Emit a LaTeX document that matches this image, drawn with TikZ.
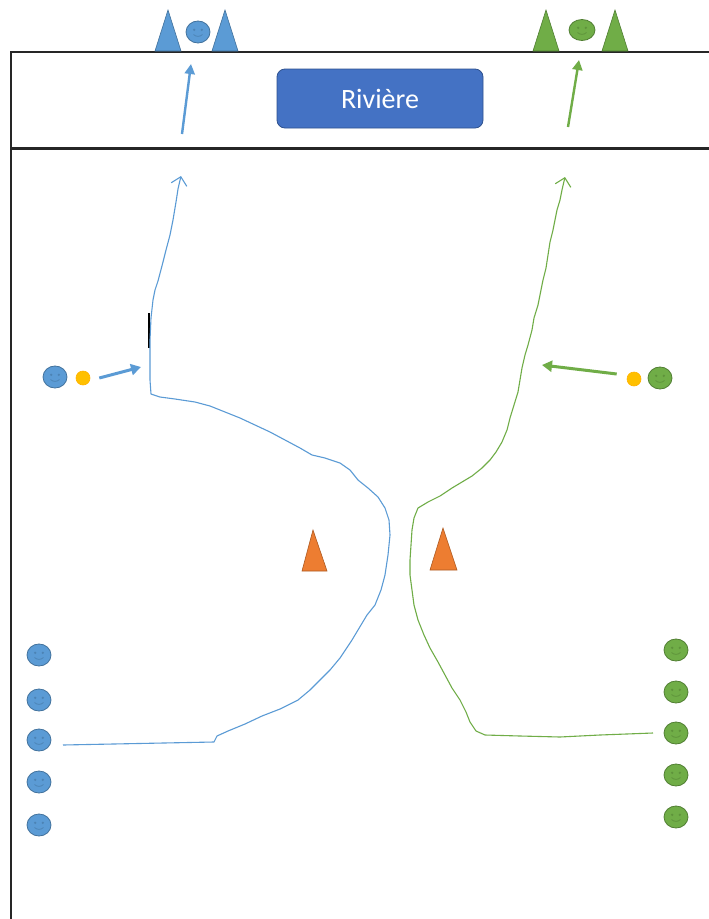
\documentclass[tikz,border=0pt]{standalone}
\usepackage{fontspec}
\newfontfamily\labelfont{Carlito}
\usetikzlibrary{shapes.geometric,arrows.meta,calc}

\definecolor{blueF}{HTML}{5B9BD5}
\definecolor{blueD}{HTML}{41719C}
\definecolor{greenF}{HTML}{70AD47}
\definecolor{greenD}{HTML}{507E32}
\definecolor{orangeF}{HTML}{ED7D31}
\definecolor{orangeD}{HTML}{AE5A21}
\definecolor{ballF}{HTML}{FFC000}
\definecolor{boxF}{HTML}{4472C4}
\definecolor{boxD}{HTML}{2F528F}

\tikzset{
  frame/.style={draw=black!85, line width=#1},
  bface/.style={ellipse, draw=blueD, fill=blueF, line width=0.8, minimum width=24, minimum height=22, inner sep=0},
  gface/.style={ellipse, draw=greenD, fill=greenF, line width=0.8, minimum width=24, minimum height=22, inner sep=0},
  ball/.style={circle, fill=ballF, draw=ballF!80!orange, line width=0.6, minimum size=14, inner sep=0},
  bcone/.style={fill=blueF, draw=blueD, line width=0.6},
  gcone/.style={fill=greenF, draw=greenD, line width=0.6},
  ocone/.style={fill=orangeF, draw=orangeD, line width=0.6},
  runline/.style={line width=1.1, line join=round, -{Straight Barb[length=8,width=16,line width=1.1]}},
  passarrow/.style={line width=3, -{Triangle[length=10,width=11]}},
  exitarrow/.style={line width=2.4, -{Triangle[length=10,width=10]}},
  riverbox/.style={rectangle, rounded corners=8, fill=boxF, draw=boxD, line width=0.8,
    minimum width=206, minimum height=59, text=white, font=\labelfont\fontsize{28}{30}\selectfont},
}

% faint smiley features inside a face node
\newcommand{\smiley}[2]{%
  \fill[#2, opacity=0.55] ($(#1)+(-3.8,-2.2)$) circle (1.3);
  \fill[#2, opacity=0.55] ($(#1)+(3.8,-2.2)$) circle (1.3);
  \draw[#2, opacity=0.55, line width=0.8] ($(#1)+(-4.5,2.5)$) .. controls ($(#1)+(-2,5)$) and ($(#1)+(2,5)$) .. ($(#1)+(4.5,2.5)$);
}

\begin{document}
\begin{tikzpicture}[x=1pt, y=-1pt]
\useasboundingbox (0,0) rectangle (709,919);
\fill[white] (0,0) rectangle (709,919);

% field outline and river band
\draw[frame=2] (709,52) -- (11,52) -- (11,919);
\draw[frame=3] (11,148) -- (709,148);

\node[riverbox] (river) at (380,98.5) {Rivière};

% goals beyond the river
\draw[bcone] (155,51) -- (168,10) -- (181,51) -- cycle;
\draw[bcone] (212,51) -- (225,10) -- (238,51) -- cycle;
\node[bface, minimum width=24, minimum height=22] (bgoal) at (198,32) {};
\smiley{bgoal}{blueD}

\draw[gcone] (533,51) -- (546,10) -- (559,51) -- cycle;
\draw[gcone] (602,51) -- (615,10) -- (628,51) -- cycle;
\node[gface, minimum width=26, minimum height=21] (ggoal) at (582,30) {};
\smiley{ggoal}{greenD}

% crossing arrows
\coordinate (bexitA) at (182,134);
\coordinate (bexitB) at (191,64);
\coordinate (gexitA) at (568,127);
\coordinate (gexitB) at (579,60);
\draw[exitarrow, blueF] (bexitA) -- (bexitB);
\draw[exitarrow, greenF] (gexitA) -- (gexitB);

% central cones
\draw[ocone] (302,571) -- (313,530) -- (327,571) -- cycle;
\draw[ocone] (430,570) -- (443,528) -- (457,570) -- cycle;

% blue team column
\foreach \i/\y in {1/655, 2/700, 3/740, 4/782, 5/825} {
  \node[bface] (b\i) at (39,\y) {};
  \smiley{b\i}{blueD}
}
% green team column
\foreach \i/\y in {1/650, 2/692, 3/733, 4/775, 5/817} {
  \node[gface] (g\i) at (676,\y) {};
  \smiley{g\i}{greenD}
}

% passers with balls
\node[bface] (bpass) at (55,377) {};
\smiley{bpass}{blueD}
\node[ball] (bball) at (83,378) {};
\coordinate (bpassEnd) at (141,367);
\draw[passarrow, blueF] (bball.east) ++(9,0) -- (bpassEnd);

\node[gface] (gpass) at (660,378) {};
\smiley{gpass}{greenD}
\node[ball] (gball) at (634,379) {};
\coordinate (gpassEnd) at (542,365);
\draw[passarrow, greenF] (gball.west) ++(-10,-5) -- (gpassEnd);

% pass receiving marker
\coordinate (markTop) at (149,313);
\coordinate (markBot) at (149,348);
\draw[black, line width=2] (markTop) -- (markBot);

% blue runner's path
\coordinate (bstart) at (63,745);
\coordinate (btip) at (181,176);
\draw[runline, blueF] (bstart) -- (214,742) -- (217,736) -- (228,731) -- (245,724) -- (262,716)
  -- (280,709) -- (298,700) -- (310,690) -- (318,682) -- (330,670) -- (340,658) -- (352,640)
  -- (358,630) -- (367,615) -- (375,605) -- (381,590) -- (385,575) -- (388,555) -- (390,535)
  -- (389,520) -- (385,508) -- (378,497) -- (368,488) -- (358,480) -- (350,470) -- (340,463)
  -- (325,458) -- (312,455) -- (300,448) -- (285,440) -- (270,432) -- (255,425) -- (240,418)
  -- (225,412) -- (210,406) -- (195,402) -- (175,399) -- (160,397) -- (151,394) -- (150,380)
  -- (150,340) -- (151,318) -- (153,300) -- (155,290) -- (158,281) -- (163,262) -- (166,250)
  -- (170,235) -- (173,220) -- (176,202) -- (178,189) -- (btip);

% green runner's path
\coordinate (gstart) at (653,733);
\coordinate (gtip) at (565,177);
\draw[runline, greenF] (gstart) -- (600,735) -- (560,737) -- (520,736) -- (485,735) -- (476,731)
  -- (470,722) -- (466,712) -- (460,700) -- (452,688) -- (445,675) -- (438,662) -- (430,648)
  -- (424,635) -- (418,620) -- (414,605) -- (412,590) -- (410,575) -- (410,560) -- (411,545)
  -- (412,530) -- (414,518) -- (418,508) -- (428,502) -- (440,496) -- (452,488) -- (462,482)
  -- (472,476) -- (482,468) -- (490,460) -- (496,452) -- (502,442) -- (507,430) -- (510,418)
  -- (514,405) -- (518,392) -- (520,380) -- (522,368) -- (525,355) -- (528,345) -- (532,330)
  -- (534,318) -- (538,305) -- (540,295) -- (543,280) -- (546,268) -- (548,255) -- (550,242)
  -- (553,230) -- (555,220) -- (557,210) -- (560,200) -- (562,190) -- (gtip);
\end{tikzpicture}
\end{document}
